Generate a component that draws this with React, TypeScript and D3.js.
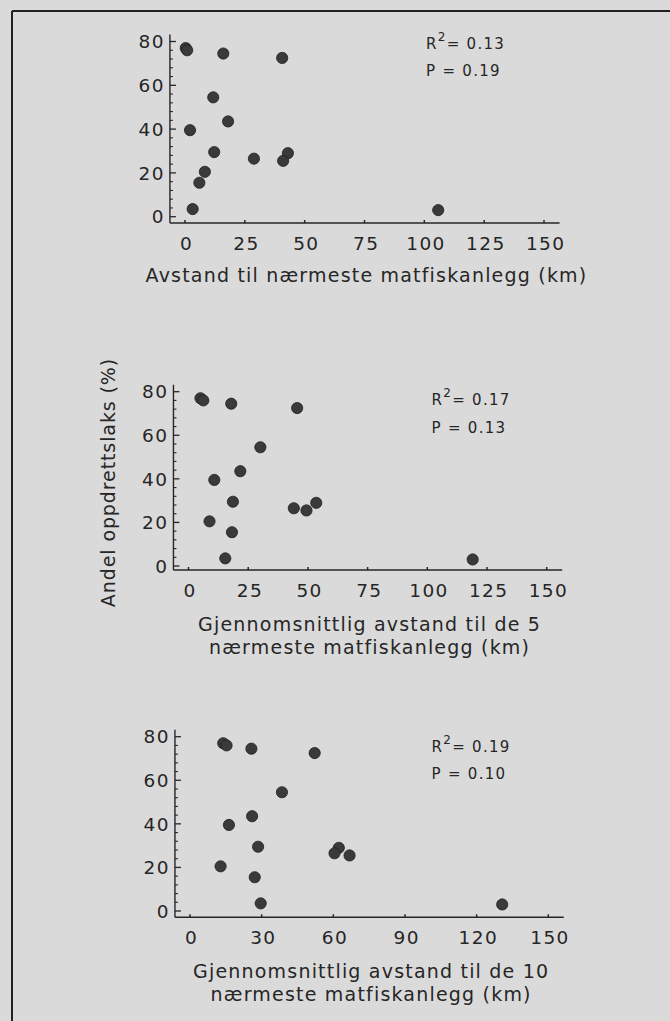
import React from "react";
import * as d3 from "d3";

// Share of farmed salmon (%) per river, same order in every panel
const andel = [77, 76, 74.5, 72.5, 54.5, 43.5, 39.5, 29.5, 29, 26.5, 25.5, 20.5, 15.5, 3.5, 3];
// Distance to nearest fish farm (km)
const distNearest = [0.3, 0.9, 16, 40.6, 11.8, 18, 2.1, 12.2, 43, 28.8, 41, 8.3, 6, 3.2, 105.8];
// Mean distance to 5 nearest farms (km)
const distMean5 = [5.0, 6.2, 17.9, 45.5, 30.1, 21.7, 10.8, 18.6, 53.5, 44.1, 49.4, 8.8, 18.2, 15.4, 119];
// Mean distance to 10 nearest farms (km)
const distMean10 = [13.9, 15.3, 25.7, 52.2, 38.5, 26, 16.3, 28.5, 62.3, 60.5, 66.8, 12.8, 27.1, 29.6, 130.7];

const xTicksA = [0, 25, 50, 75, 100, 125, 150];
const xTicksB = [0, 30, 60, 90, 120, 150];
const yTicks = [0, 20, 40, 60, 80];
const yMinorTicks = [4, 8, 12, 16, 24, 28, 32, 36, 44, 48, 52, 56, 64, 68, 72, 76];

const r2Values = ["0.13", "0.17", "0.19"];
const pValues = ["0.19", "0.13", "0.10"];
const xTitles = [
  ["Avstand til nærmeste matfiskanlegg (km)"],
  ["Gjennomsnittlig avstand til de 5", "nærmeste matfiskanlegg (km)"],
  ["Gjennomsnittlig avstand til de 10", "nærmeste matfiskanlegg (km)"],
];
const yTitle = "Andel oppdrettslaks (%)";

const W = 670;
const H = 1021;
const BG = "#dadada";
const INK = "#262626";
const FONT = "'DejaVu Sans', sans-serif";

type PanelLayout = {
  x0: number; x150: number; y0: number; y80: number; axisY: number;
  statX: number; statY: number; titleY: number;
};

const layouts: PanelLayout[] = [
  { x0: 185, x150: 544, y0: 216.7, y80: 41.5, axisY: 223, statX: 426, statY: 48.5, titleY: 281.5 },
  { x0: 188.5, x150: 546.7, y0: 566, y80: 391.7, axisY: 570, statX: 431.5, statY: 405, titleY: 630.5 },
  { x0: 190, x150: 548.3, y0: 911, y80: 736.7, axisY: 917.3, statX: 431.5, statY: 751.7, titleY: 977.5 },
];

function Panel({ idx, xs, ys, xTicks }: { idx: number; xs: number[]; ys: number[]; xTicks: number[] }) {
  const L = layouts[idx];
  const x = d3.scaleLinear().domain([0, 150]).range([L.x0, L.x150]);
  const y = d3.scaleLinear().domain([0, 80]).range([L.y0, L.y80]);
  const axisX = x(-6.3);
  const axisTop = y(83.2);
  const xEnd = x(156.5);
  const cx = (x(0) + x(150)) / 2 + 2;
  return (
    <g>
      {/* y axis */}
      <line x1={axisX} x2={axisX} y1={axisTop} y2={L.axisY} stroke={INK} strokeWidth={1.4} />
      {yTicks.map((t) => (
        <g key={"yt" + t}>
          <line x1={axisX} x2={axisX + 6} y1={y(t)} y2={y(t)} stroke={INK} strokeWidth={1.3} />
          <text x={axisX - 5} y={y(t)} dy="0.36em" textAnchor="end" fontSize={18.5} fill={INK} fontFamily={FONT}
            letterSpacing={1.4}>
            {t}
          </text>
        </g>
      ))}
      {yMinorTicks.map((t) => (
        <line key={"ym" + t} x1={axisX} x2={axisX + 3} y1={y(t)} y2={y(t)} stroke={INK} strokeWidth={1.1} />
      ))}
      {/* x axis */}
      <line x1={axisX} x2={xEnd} y1={L.axisY} y2={L.axisY} stroke={INK} strokeWidth={1.4} />
      {xTicks.map((t) => (
        <g key={"xt" + t}>
          <line x1={x(t)} x2={x(t)} y1={L.axisY} y2={L.axisY - 3} stroke={INK} strokeWidth={1.5} />
          <text x={x(t) + 1.7} y={L.axisY + 26.5} textAnchor="middle" fontSize={18.5} fill={INK} fontFamily={FONT}
            letterSpacing={1.4}>
            {t}
          </text>
        </g>
      ))}
      {/* points */}
      {xs.map((v, i) => (
        <circle key={"p" + i} cx={x(v)} cy={y(ys[i])} r={5.6} fill="#3a3a3a" stroke="#1f1f1f" strokeWidth={0.8} />
      ))}
      {/* stats */}
      <text x={L.statX} y={L.statY} fontSize={15} fill={INK} fontFamily={FONT} letterSpacing={1.3}>
        <tspan>R</tspan>
        <tspan fontSize={12} dy={-8}>2</tspan>
        <tspan dy={8}>{"= " + r2Values[idx]}</tspan>
      </text>
      <text x={L.statX} y={L.statY + 27.5} fontSize={15} fill={INK} fontFamily={FONT} letterSpacing={1.3}>
        {"P = " + pValues[idx]}
      </text>
      {/* x title */}
      {xTitles[idx].map((line, j) => (
        <text key={"tt" + j} x={cx} y={L.titleY + j * 23.5} textAnchor="middle" fontSize={19} fill={INK}
          fontFamily={FONT} letterSpacing={1.2}>
          {line}
        </text>
      ))}
    </g>
  );
}

export default function App() {
  return (
    <svg width={W} height={H} viewBox={`0 0 ${W} ${H}`}
      style={{ position: "absolute", left: 0, top: 0, display: "block", background: BG }}>
      <rect x={0} y={0} width={W} height={H} fill={BG} />
      {/* frame */}
      <line x1={12} x2={W} y1={11} y2={11} stroke="#222" strokeWidth={2} />
      <line x1={12} x2={12} y1={11} y2={H} stroke="#222" strokeWidth={2} />
      <Panel idx={0} xs={distNearest} ys={andel} xTicks={xTicksA} />
      <Panel idx={1} xs={distMean5} ys={andel} xTicks={xTicksA} />
      <Panel idx={2} xs={distMean10} ys={andel} xTicks={xTicksB} />
      <text transform={`translate(115,482.5) rotate(-90)`} textAnchor="middle" fontSize={19} fill={INK}
        fontFamily={FONT} letterSpacing={0.9}>
        {yTitle}
      </text>
    </svg>
  );
}
